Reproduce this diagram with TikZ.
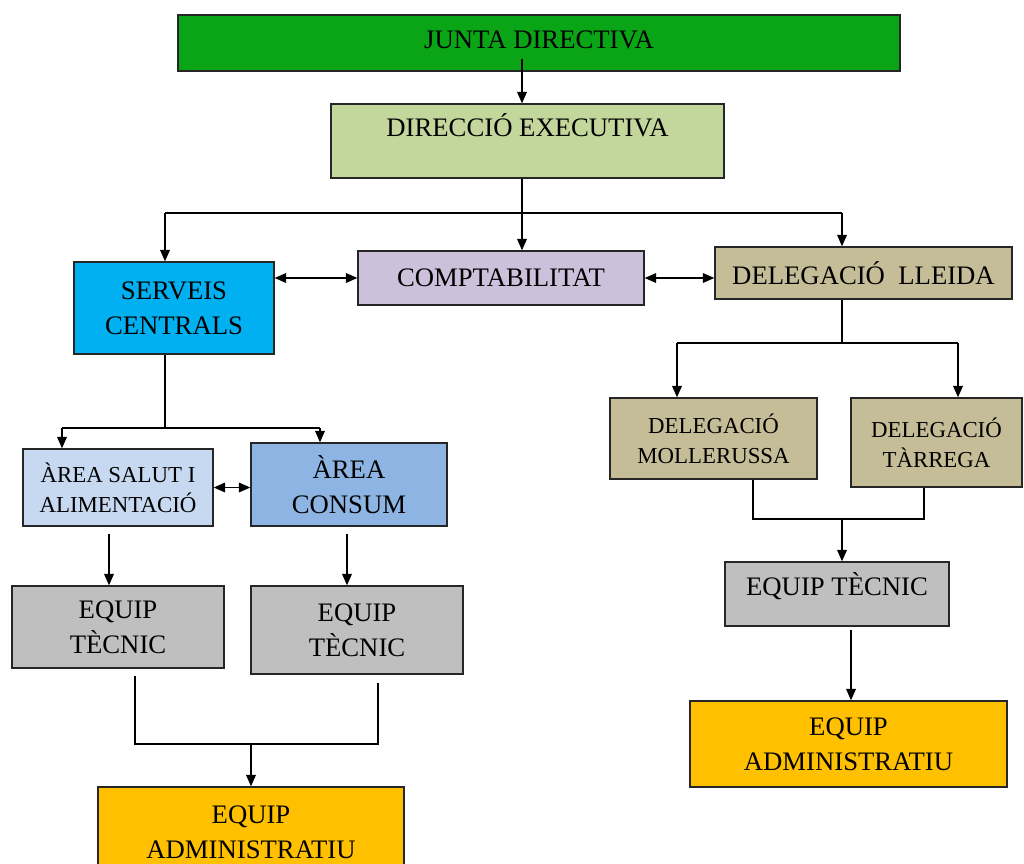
\documentclass[tikz,border=0pt]{standalone}
\usepackage{fontspec}
\setmainfont{Liberation Serif}
\usetikzlibrary{arrows.meta}
\definecolor{juntagreen}{RGB}{10,165,22}
\definecolor{dirgreen}{RGB}{195,214,155}
\definecolor{servblue}{RGB}{0,176,240}
\definecolor{comptlila}{RGB}{204,192,218}
\definecolor{delegtan}{RGB}{196,189,151}
\definecolor{salutblue}{RGB}{198,217,241}
\definecolor{consumblue}{RGB}{141,180,226}
\definecolor{equipgray}{RGB}{191,191,191}
\definecolor{adminorange}{RGB}{255,192,0}

\begin{document}
\begin{tikzpicture}[x=0.02cm, y=-0.02cm,
    box/.style={draw=black!85, line width=0.8pt, inner sep=0pt, align=center,
      font=\fontsize{15.2}{20}\selectfont},
    small/.style={font=\fontsize{13}{17}\selectfont},
    sz/.style 2 args={minimum width=#1*0.02cm, minimum height=#2*0.02cm},
    ln/.style={line width=0.7pt},
    arr/.style={line width=0.8pt, -{Triangle[length=6.5pt,width=5.5pt]}},
    dbl/.style={line width=0.8pt,
      {Triangle[length=6.5pt,width=5.5pt]}-{Triangle[length=6.5pt,width=5.5pt]}}]
    \useasboundingbox (0,0) rectangle (1024,863);

    % top of the chart
    \node[box, fill=juntagreen, sz={722}{56}, text depth=0.14cm] (junta) at (539,43) {JUNTA DIRECTIVA};
    \node[box, fill=dirgreen, sz={393}{74}, text depth=0.62cm] (dir) at (527.5,141) {DIRECCIÓ EXECUTIVA};

    % second row
    \node[box, fill=servblue, sz={200}{92}] (serv) at (174,308) {SERVEIS\\CENTRALS};
    \node[box, fill=comptlila, sz={286}{54}] (compt) at (501,278) {COMPTABILITAT};
    \node[box, fill=delegtan, sz={297}{52}] (lleida) at (863.5,273) {DELEGACIÓ\ \ LLEIDA};

    % left branch
    \node[box, small, fill=salutblue, sz={190}{77}] (salut) at (118,487.5) {ÀREA SALUT I\\ALIMENTACIÓ};
    \node[box, fill=consumblue, sz={196}{83}] (consum) at (349,484.5) {ÀREA\\CONSUM};
    \node[box, fill=equipgray, sz={212}{82}] (tecA) at (118,627) {EQUIP\\TÈCNIC};
    \node[box, fill=equipgray, sz={212}{88}] (tecB) at (357,630) {EQUIP\\TÈCNIC};
    \node[box, fill=adminorange, sz={306}{90}] (admL) at (251,832) {EQUIP\\ADMINISTRATIU};

    % right branch
    \node[box, small, fill=delegtan, sz={207}{81}] (moll) at (713.5,438.5) {DELEGACIÓ\\MOLLERUSSA};
    \node[box, small, fill=delegtan, sz={171}{89}] (tarr) at (936.5,442.5) {DELEGACIÓ\\TÀRREGA};
    \node[box, fill=equipgray, sz={224}{64}, text depth=0.4cm] (tecR) at (837,594) {EQUIP TÈCNIC};
    \node[box, fill=adminorange, sz={317}{86}] (admR) at (848.5,744) {EQUIP\\ADMINISTRATIU};

    % junction points
    \coordinate (busT) at (522,213);
    \coordinate (busL) at (165,213);
    \coordinate (busR) at (842,213);
    \coordinate (busD) at (842,343);
    \coordinate (busDL) at (677,343);
    \coordinate (busDR) at (958,343);
    \coordinate (mJ) at (753,519);
    \coordinate (tJ) at (924,519);
    \coordinate (jR) at (842,519);
    \coordinate (dR) at (851,630);
    \coordinate (busS) at (165,428);
    \coordinate (busSL) at (62,428);
    \coordinate (busSR) at (320,428);
    \coordinate (sA) at (109,534);
    \coordinate (sB) at (347,534);
    \coordinate (jA) at (135,676);
    \coordinate (jB) at (378,683);
    \coordinate (jAb) at (135,744);
    \coordinate (jBb) at (378,744);
    \coordinate (jM) at (251,744);

    % connectors from the top
    \draw[arr] (busT |- junta.south) ++(0,-13) -- (busT |- dir.north);
    \draw[arr] (dir.south -| busT) -- (busT |- compt.north);
    \draw[ln] (busL) -- (busR);
    \draw[arr] (busL) -- (busL |- serv.north);
    \draw[arr] (busR) -- (busR |- lleida.north);
    \draw[dbl] (serv.east |- compt.west) -- (compt.west);
    \draw[dbl] (compt.east) -- (compt.east -| lleida.west);

    % right branch connectors
    \draw[ln] (busD |- lleida.south) -- (busD);
    \draw[ln] (busDL) -- (busDR);
    \draw[arr] (busDL) -- (busDL |- moll.north);
    \draw[arr] (busDR) -- (busDR |- tarr.north);
    \draw[ln] (mJ |- moll.south) -- (mJ) -- (tJ) -- (tJ |- tarr.south);
    \draw[arr] (jR) -- (jR |- tecR.north);
    \draw[arr] (dR) -- (dR |- admR.north);

    % left branch connectors
    \draw[ln] (busS |- serv.south) -- (busS);
    \draw[ln] (busSL) -- (busSR);
    \draw[arr] (busSL) -- (busSL |- salut.north);
    \draw[arr] (busSR) -- (busSR |- consum.north);
    \draw[dbl] (salut.east) -- (salut.east -| consum.west);
    \draw[arr] (sA) -- (sA |- tecA.north);
    \draw[arr] (sB) -- (sB |- tecB.north);
    \draw[ln] (jA) -- (jAb) -- (jBb) -- (jB);
    \draw[arr] (jM) -- (jM |- admL.north);
\end{tikzpicture}
\end{document}
